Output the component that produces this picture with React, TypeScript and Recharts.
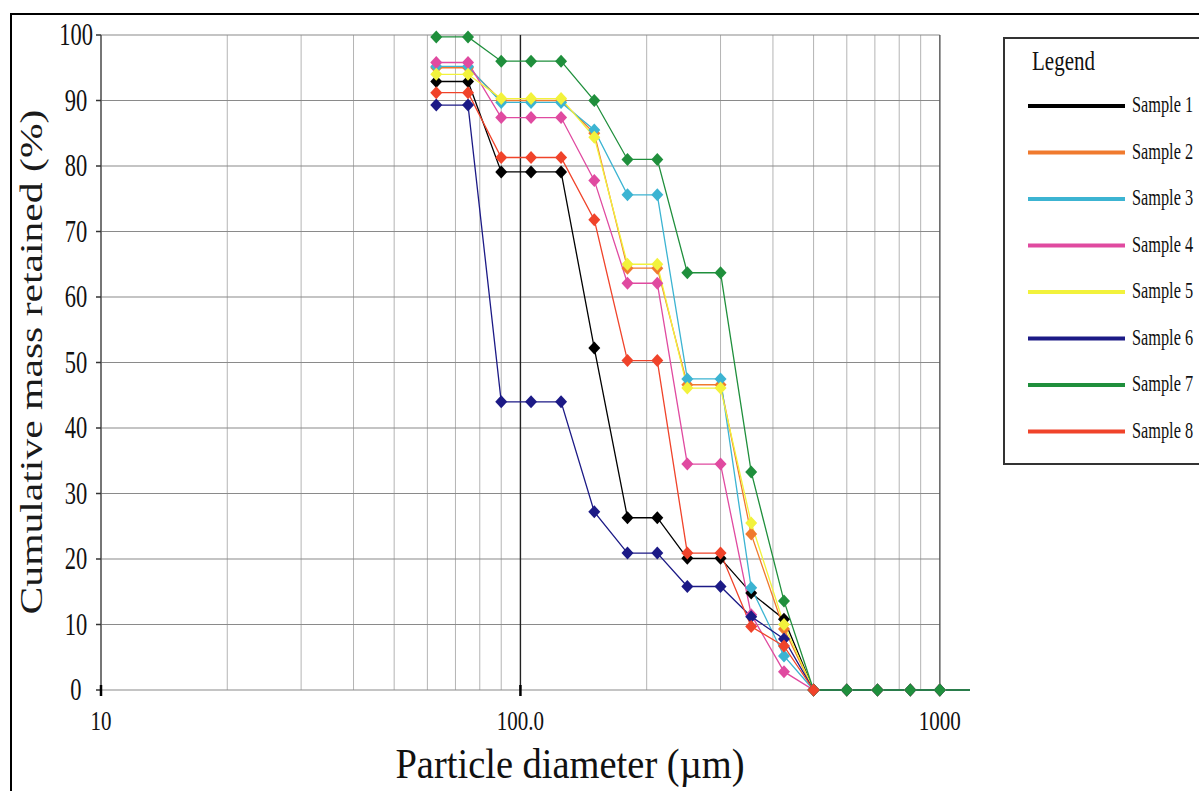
import { Line, LineChart, ReferenceLine, XAxis, YAxis } from "recharts";

// sieve openings in µm
const sieveSizes = [63, 75, 90, 106, 125, 150, 180, 212, 250, 300, 355, 425, 500, 600, 710, 850, 1000, 1180];

const sample1 = [92.9, 92.9, 79.1, 79.1, 79.1, 52.2, 26.3, 26.3, 20.1, 20.1, 14.8, 10.8, 0, 0, 0, 0, 0, 0];
const sample2 = [95.0, 95.0, 90.0, 90.0, 90.0, 85.0, 64.4, 64.4, 46.6, 46.6, 23.8, 9.3, 0, 0, 0, 0, 0, 0];
const sample3 = [95.2, 95.2, 89.7, 89.7, 89.7, 85.5, 75.6, 75.6, 47.5, 47.5, 15.6, 5.2, 0, 0, 0, 0, 0, 0];
const sample4 = [95.8, 95.8, 87.4, 87.4, 87.4, 77.8, 62.1, 62.1, 34.5, 34.5, 11.5, 2.8, 0, 0, 0, 0, 0, 0];
const sample5 = [94.0, 94.0, 90.3, 90.3, 90.3, 84.4, 65.0, 65.0, 46.1, 46.1, 25.5, 10.0, 0, 0, 0, 0, 0, 0];
const sample6 = [89.3, 89.3, 44.0, 44.0, 44.0, 27.2, 20.9, 20.9, 15.8, 15.8, 11.2, 7.8, 0, 0, 0, 0, 0, 0];
const sample7 = [99.7, 99.7, 96.0, 96.0, 96.0, 90.0, 81.0, 81.0, 63.7, 63.7, 33.3, 13.6, 0, 0, 0, 0, 0, 0];
const sample8 = [91.2, 91.2, 81.3, 81.3, 81.3, 71.8, 50.3, 50.3, 20.9, 20.9, 9.7, 6.7, 0, null, null, null, null, null];

const seriesNames = ["Sample 1", "Sample 2", "Sample 3", "Sample 4", "Sample 5", "Sample 6", "Sample 7", "Sample 8"];
const seriesValues = [sample1, sample2, sample3, sample4, sample5, sample6, sample7, sample8];
const seriesColors = ["#000000", "#f07a2e", "#3cb4d2", "#e04aa0", "#f2f23c", "#1c1a86", "#1f8f3c", "#f0432a"];

const xGridTicks = [10, 20, 30, 40, 50, 60, 70, 80, 90, 100, 200, 300, 400, 500, 600, 700, 800, 900, 1000];
const xLabelValues = [10, 100, 1000];
const xLabelTexts = ["10", "100.0", "1000"];
const yTicks = [0, 10, 20, 30, 40, 50, 60, 70, 80, 90, 100];

const data = sieveSizes.map((size, i) => {
  const row: Record<string, number | null> = { size };
  seriesNames.forEach((name, s) => {
    row[name] = seriesValues[s][i];
  });
  return row;
});

const serif = "'Liberation Serif', 'Times New Roman', serif";

const Diamond = ({ cx, cy, fill }: { cx?: number; cy?: number; fill: string }) => {
  if (cx == null || cy == null || Number.isNaN(cx) || Number.isNaN(cy)) return <g />;
  return <path d={`M${cx},${cy - 6.5} L${cx + 6},${cy} L${cx},${cy + 6.5} L${cx - 6},${cy} Z`} fill={fill} />;
};

const YTick = ({ x, y, payload }: any) => (
  <text
    transform={`translate(${x - 20},${y}) scale(1,1.4)`}
    textAnchor="middle"
    dominantBaseline="central"
    fontSize={22.5}
    fontFamily={serif}
    fill="#111"
  >
    {payload.value}
  </text>
);

const XTick = ({ x, payload }: any) => {
  const idx = xLabelValues.indexOf(payload.value);
  if (idx < 0) return <g />;
  return (
    <g>
      {payload.value < 1000 && <line x1={x} x2={x} y1={685} y2={696} stroke="#000" strokeWidth={2.5} />}
      <text
        transform={`translate(${x},${721}) scale(1,1.25)`}
        textAnchor="middle"
        dominantBaseline="central"
        fontSize={21}
        fontFamily={serif}
        fill="#111"
      >
        {xLabelTexts[idx]}
      </text>
    </g>
  );
};

const XTitle = () => (
  <text
    transform="translate(570,778) scale(1,1.08)"
    textAnchor="middle"
    fontSize={38.5}
    fontFamily={serif}
    fill="#111"
  >
    Particle diameter (µm)
  </text>
);

const YTitle = () => (
  <text
    transform="translate(31,362) rotate(-90) scale(1.3,1)"
    textAnchor="middle"
    dominantBaseline="central"
    fontSize={32}
    fontFamily={serif}
    fill="#1a1a1a"
  >
    Cumulative mass retained  (%)
  </text>
);

function LegendBox() {
  return (
    <div
      style={{
        position: "absolute",
        left: 1003,
        top: 37,
        width: 230,
        height: 424,
        border: "2px solid #333",
        background: "#fff",
      }}
    >
      <svg width={230} height={424}>
        <text
          transform="translate(27,21) scale(1,1.35)"
          dominantBaseline="central"
          fontSize={21}
          fontFamily={serif}
          fill="#111"
        >
          Legend
        </text>
        {seriesNames.map((name, i) => {
          const y = 67 + i * 46.5;
          return (
            <g key={name}>
              <line x1={23} x2={120} y1={y} y2={y} stroke={seriesColors[i]} strokeWidth={4} />
              <text
                transform={`translate(127,${y - 2}) scale(1,1.45)`}
                dominantBaseline="central"
                fontSize={16.3}
                fontFamily={serif}
                fill="#111"
              >
                {name}
              </text>
            </g>
          );
        })}
      </svg>
    </div>
  );
}

export default function App() {
  return (
    <div style={{ position: "absolute", left: 0, top: 0, width: 1199, height: 791, background: "#fff", overflow: "hidden" }}>
      <div
        style={{
          position: "absolute",
          left: 10,
          top: 13,
          width: 1300,
          height: 900,
          borderLeft: "2px solid #000",
          borderTop: "2px solid #000",
        }}
      />
      <div style={{ position: "absolute", left: 0, top: 0 }}>
        <LineChart width={1199} height={791} data={data} margin={{ top: 35, right: 229, bottom: 0, left: 0 }}>
          {xGridTicks
            .filter((v) => v !== 100 && v !== 1000)
            .map((v) => (
              <ReferenceLine key={`v${v}`} x={v} stroke="#b4b4b4" strokeWidth={1} />
            ))}
          {yTicks.map((v) => (
            <ReferenceLine
              key={`h${v}`}
              segment={[
                { x: 10, y: v },
                { x: 1000, y: v },
              ]}
              stroke="#8a8a8a"
              strokeWidth={1.2}
            />
          ))}
          <ReferenceLine x={100} stroke="#222" strokeWidth={1.4} />
          <ReferenceLine x={1000} stroke="#555" strokeWidth={1.4} />
          <XAxis
            dataKey="size"
            type="number"
            scale="log"
            domain={[10, 1180]}
            ticks={xGridTicks}
            tick={<XTick />}
            tickLine={false}
            axisLine={false}
            height={101}
            interval={0}
            label={XTitle}
          />
          <YAxis
            type="number"
            domain={[0, 100]}
            ticks={yTicks}
            tick={<YTick />}
            tickSize={5}
            tickMargin={0}
            tickLine={{ stroke: "#333", strokeWidth: 1.5 }}
            axisLine={{ stroke: "#555", strokeWidth: 1.5 }}
            width={101}
            interval={0}
            label={YTitle}
          />
          {seriesNames.map((name, i) => (
            <Line
              key={name}
              type="linear"
              dataKey={name}
              stroke={seriesColors[i]}
              strokeWidth={1.3}
              isAnimationActive={false}
              dot={(p: any) =>
                p.index === sieveSizes.length - 1 ? (
                  <g key={`${name}-${p.index}`} />
                ) : (
                  <Diamond key={`${name}-${p.index}`} cx={p.cx} cy={p.cy} fill={seriesColors[i]} />
                )
              }
              activeDot={false}
            />
          ))}
        </LineChart>
      </div>
      <LegendBox />
    </div>
  );
}
